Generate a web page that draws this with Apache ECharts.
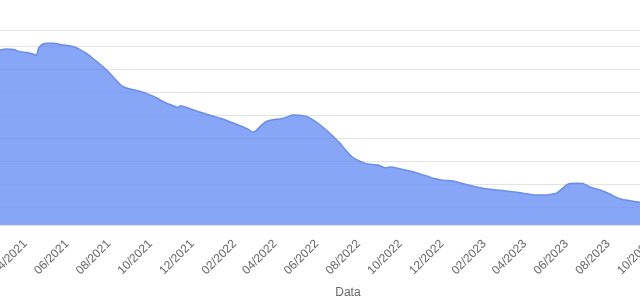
<!DOCTYPE html>
<html>
<head>
<meta charset="utf-8">
<script src="https://cdn.jsdelivr.net/npm/echarts@6/dist/echarts.min.js"></script>
<style>
  html, body { margin: 0; padding: 0; background: #fff; }
  #chart { width: 640px; height: 296px; }
</style>
</head>
<body>
<div id="chart"></div>
<script>
const dates = [
  '2021-02-23','2021-03-05','2021-03-15','2021-03-24','2021-04-03','2021-04-12','2021-04-17','2021-04-20',
  '2021-04-23','2021-04-27','2021-05-03','2021-05-12','2021-05-22','2021-06-01','2021-06-10','2021-06-20',
  '2021-06-30','2021-07-09','2021-07-19','2021-07-30','2021-08-07','2021-08-17','2021-08-23','2021-09-01',
  '2021-09-11','2021-09-20','2021-10-01','2021-10-11','2021-10-19','2021-10-29','2021-11-06','2021-11-10',
  '2021-11-14','2021-11-23','2021-12-02','2021-12-13','2021-12-27','2022-01-11','2022-01-25','2022-02-08',
  '2022-02-19','2022-02-28','2022-03-05','2022-03-10','2022-03-15','2022-03-20','2022-03-29','2022-04-08',
  '2022-04-18','2022-04-27','2022-05-07','2022-05-18','2022-05-27','2022-06-06','2022-06-16','2022-06-25',
  '2022-07-05','2022-07-13','2022-07-22','2022-08-01','2022-08-11','2022-08-21','2022-08-30','2022-09-09',
  '2022-09-16','2022-09-30','2022-10-15','2022-10-30','2022-11-09','2022-11-18','2022-12-02','2022-12-17',
  '2022-12-27','2023-01-11','2023-01-26','2023-02-09','2023-02-24','2023-03-10','2023-03-25','2023-04-09',
  '2023-04-19','2023-05-03','2023-05-12','2023-05-18','2023-05-26','2023-06-01','2023-06-06','2023-06-17',
  '2023-06-25','2023-07-05','2023-07-20','2023-08-03','2023-08-13','2023-08-22','2023-09-02','2023-09-17',
  '2023-09-24'
];
const values = [
  78.3, 78.7, 78.5, 77.6, 77.2, 76.6, 75.9, 78.7,
  80.0, 80.9, 81.2, 81.2, 80.7, 80.3, 79.8, 78.5,
  76.7, 74.6, 72.2, 69.3, 66.7, 63.5, 62.2, 61.3,
  60.7, 60.0, 58.7, 57.4, 55.9, 54.6, 53.7, 53.3,
  54.1, 53.3, 52.3, 51.3, 49.9, 48.6, 47.1, 45.5,
  44.1, 42.5, 43.5, 45.0, 46.3, 47.3, 48.0, 48.3,
  49.1, 50.0, 49.9, 49.3, 47.8, 45.7, 43.2, 40.7,
  37.7, 34.8, 32.0, 30.2, 29.0, 28.5, 28.3, 27.0,
  27.4, 26.7, 25.7, 24.4, 23.5, 22.5, 21.7, 21.3,
  20.6, 19.4, 18.4, 17.7, 17.3, 16.8, 16.2, 15.5,
  15.2, 15.2, 15.7, 16.2, 18.1, 19.6, 20.3, 20.4,
  20.3, 18.8, 17.4, 15.7, 14.2, 13.3, 12.7, 12.0,
  11.5
];
const tickDates = [
  '2021-04-01','2021-06-01','2021-08-01','2021-10-01','2021-12-01',
  '2022-02-01','2022-04-01','2022-06-01','2022-08-01','2022-10-01','2022-12-01',
  '2023-02-01','2023-04-01','2023-06-01','2023-08-01','2023-10-01'
];
const xAxisName = 'Data';

function toTs(s) {
  const p = s.split('-').map(Number);
  return new Date(p[0], p[1] - 1, p[2]).getTime();
}
function pad(n) { return (n < 10 ? '0' : '') + n; }

const chart = echarts.init(document.getElementById('chart'), null, { renderer: 'canvas' });
const FONT = '"Liberation Sans", Arial, Helvetica, sans-serif';

chart.setOption({
  animation: false,
  backgroundColor: '#ffffff',
  grid: {
    left: -36.3, top: 30, width: 768.5, height: 195,
    containLabel: false,
    outerBoundsMode: 'none'
  },
  xAxis: {
    type: 'value',
    min: toTs('2021-01-01'),
    max: toTs('2024-01-29'),
    name: xAxisName,
    nameLocation: 'middle',
    nameGap: 62,
    nameTextStyle: { color: '#666', fontSize: 12, fontFamily: FONT },
    axisLine: { show: false },
    axisTick: { show: false },
    splitLine: { show: false },
    axisLabel: {
      customValues: tickDates.map(toTs),
      rotate: 45,
      color: '#666',
      fontSize: 12,
      fontFamily: FONT,
      margin: 17,
      hideOverlap: false,
      formatter: function (v) {
        const d = new Date(v);
        return pad(d.getMonth() + 1) + '/' + d.getFullYear();
      }
    }
  },
  yAxis: {
    type: 'value',
    min: 2.2,
    max: 87,
    splitNumber: 8,
    axisLine: { show: false },
    axisTick: { show: false },
    axisLabel: { show: false },
    splitLine: { show: true, lineStyle: { color: '#e3e3e3', width: 1 } }
  },
  series: [{
    type: 'line',
    data: dates.map((d, i) => [toTs(d), values[i]]),
    showSymbol: false,
    smooth: 0.2,
    lineStyle: { color: '#6a8de6', width: 1.5 },
    areaStyle: { color: 'rgba(95,135,245,0.74)', opacity: 1 }
  }]
});
</script>
</body>
</html>
